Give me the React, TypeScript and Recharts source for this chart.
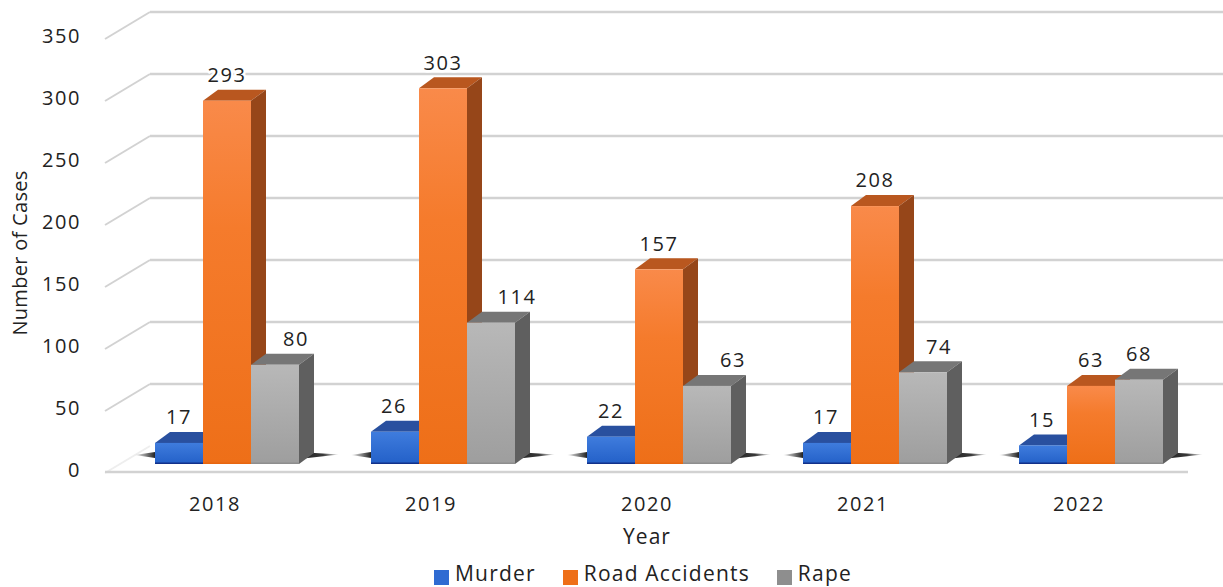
import { BarChart, Bar, XAxis, YAxis, CartesianGrid, Legend, LabelList } from "recharts";

const years = ["2018", "2019", "2020", "2021", "2022"];
const murder = [17, 26, 22, 17, 15];
const roadAccidents = [293, 303, 157, 208, 63];
const rape = [80, 114, 63, 74, 68];
const yTicks = [0, 50, 100, 150, 200, 250, 300, 350];

const data = years.map((year, i) => ({
  year,
  Murder: murder[i],
  "Road Accidents": roadAccidents[i],
  Rape: rape[i],
}));

const FONT = "'Open Sans', sans-serif";
const TEXT = "#222";
const GRID = "#d2d2d2";
// 3d look
const SHIFT = 12;
const DX = 15;
const DY = 11;
const BACK = 18;

// the labels were placed by hand in the original, so they don't sit quite centred
const murderNudge = [0, -1, 0, -1, -1];
const roadNudge = [0, 0, 0, 0, 0];
const rapeNudge = [21, 26, 26, 16, 0];

const faces = {
  blue: { id: "frontBlue", top: "#29509f", side: "#1d3f85", base: "#12318a" },
  orange: { id: "frontOrange", top: "#b9571f", side: "#964619", base: "#e8660f" },
  gray: { id: "frontGray", top: "#767676", side: "#5f5f5f", base: "#8e8e8e" },
};

const box3d = (c: typeof faces.blue, shadow?: "left" | "right") => (props: any) => {
  const { x, y, width, height } = props;
  const l = x + SHIFT;
  const r = l + width;
  const b = y + height;
  return (
    <g>
      {shadow === "left" && (
        <polygon points={`${l - 20},${b - 9} ${l},${b - 12} ${l},${b - 6}`} fill="url(#shadowL)" />
      )}
      {shadow === "right" && (
        <polygon points={`${r},${b - 12} ${r + 40},${b - 9.5} ${r},${b - 5}`} fill="url(#shadowR)" />
      )}
      <polygon points={`${l},${y} ${l + DX},${y - DY} ${r + DX},${y - DY} ${r},${y}`} fill={c.top} />
      <polygon points={`${r},${y} ${r + DX},${y - DY} ${r + DX},${b - DY} ${r},${b}`} fill={c.side} />
      <rect x={l} y={y} width={width} height={height} fill={`url(#${c.id})`} />
      <rect x={l} y={b - 1.5} width={width} height={1.5} fill={c.base} />
    </g>
  );
};

const gridLine = (props: any) => {
  const { x1, x2, y1 } = props;
  const yb = y1 - BACK;
  const isFloor = yb > 440;
  return (
    <g key={`g-${y1}`}>
      {!isFloor && <line x1={x1 + 43} x2={x2 + 36} y1={yb} y2={yb} stroke={GRID} strokeWidth={2.5} />}
      <line x1={x1 - 2} x2={x1 + 43} y1={yb + 27} y2={yb} stroke={isFloor ? "#eeeeee" : GRID} strokeWidth={2} />
      {isFloor && <line x1={x1 - 2} x2={x2 + 1} y1={yb + 26} y2={yb + 26} stroke={GRID} strokeWidth={2.5} />}
    </g>
  );
};

const barLabel = (nudge: number[]) => (props: any) => {
  const { x, y, width, value, index } = props;
  return (
    <text
      x={x + width / 2 + SHIFT + nudge[index]}
      y={y - 24}
      textAnchor="middle"
      dominantBaseline="middle"
      fontFamily={FONT}
      fontSize={20}
      letterSpacing={1.6}
      fill={TEXT}
      stroke="#fff"
      strokeWidth={5}
      paintOrder="stroke"
    >
      {value}
    </text>
  );
};

const yTick = (props: any) => {
  const { x, y, payload } = props;
  return (
    <text x={x} y={y + 8} textAnchor="end" dominantBaseline="middle" fontFamily={FONT} fontSize={20} letterSpacing={1.6} fill={TEXT}>
      {payload.value}
    </text>
  );
};

const legendText = (value: string) => (
  <span style={{ color: TEXT, fontFamily: FONT, fontSize: 21, letterSpacing: 1.2, marginLeft: 2, marginRight: 17 }}>{value}</span>
);

export default function App() {
  return (
    <div style={{ position: "absolute", left: 0, top: 0, background: "#fff" }}>
      <BarChart
        width={1223}
        height={587}
        data={data}
        barSize={48}
        barGap={0}
        margin={{ top: 30, right: 36, bottom: 0, left: 0 }}
      >
        <defs>
          <linearGradient id="frontBlue" x1="0" y1="0" x2="0" y2="1">
            <stop offset="0" stopColor="#3f7cdd" />
            <stop offset="1" stopColor="#2360c8" />
          </linearGradient>
          <linearGradient id="frontOrange" x1="0" y1="0" x2="0" y2="1">
            <stop offset="0" stopColor="#f98a4a" />
            <stop offset="0.35" stopColor="#f57b2c" />
            <stop offset="1" stopColor="#ee6f18" />
          </linearGradient>
          <linearGradient id="frontGray" x1="0" y1="0" x2="0" y2="1">
            <stop offset="0" stopColor="#b8b8b8" />
            <stop offset="1" stopColor="#9e9e9e" />
          </linearGradient>
          <linearGradient id="shadowL" x1="0" y1="0" x2="1" y2="0">
            <stop offset="0" stopColor="#222" stopOpacity={0.05} />
            <stop offset="1" stopColor="#222" stopOpacity={1} />
          </linearGradient>
          <linearGradient id="shadowR" x1="0" y1="0" x2="1" y2="0">
            <stop offset="0" stopColor="#222" stopOpacity={1} />
            <stop offset="0.6" stopColor="#222" stopOpacity={0.9} />
            <stop offset="1" stopColor="#222" stopOpacity={0.05} />
          </linearGradient>
        </defs>
        <CartesianGrid vertical={false} horizontal={gridLine} />
        <XAxis
          dataKey="year"
          axisLine={false}
          tickLine={false}
          height={88}
          tickMargin={27}
          tick={{ fontFamily: FONT, fontSize: 20, fill: TEXT, letterSpacing: 1.6 }}
          label={{ value: "Year", position: "insideBottom", offset: 8, fontFamily: FONT, fontSize: 21, fill: TEXT, letterSpacing: 1 }}
        />
        <YAxis
          domain={[0, 350]}
          ticks={yTicks}
          width={107}
          axisLine={false}
          tickLine={false}
          tickMargin={20}
          tick={yTick}
          label={{ value: "Number of Cases", angle: -90, position: "insideLeft", offset: 20, dy: 6, fontFamily: FONT, fontSize: 20, letterSpacing: 0.3, fill: TEXT, style: { textAnchor: "middle" } }}
        />
        <Legend
          height={35}
          verticalAlign="bottom"
          align="left"
          iconType="square"
          iconSize={15}
          itemSorter={null}
          formatter={legendText}
          wrapperStyle={{ left: 434, top: 559, width: 470, textAlign: "left" }}
        />
        <Bar dataKey="Murder" fill="#2f6bd2" isAnimationActive={false} shape={box3d(faces.blue, "left")}>
          <LabelList dataKey="Murder" content={barLabel(murderNudge)} />
        </Bar>
        <Bar dataKey="Road Accidents" fill="#ee6f18" isAnimationActive={false} shape={box3d(faces.orange)}>
          <LabelList dataKey="Road Accidents" content={barLabel(roadNudge)} />
        </Bar>
        <Bar dataKey="Rape" fill="#8e8e8e" isAnimationActive={false} shape={box3d(faces.gray, "right")}>
          <LabelList dataKey="Rape" content={barLabel(rapeNudge)} />
        </Bar>
      </BarChart>
    </div>
  );
}
